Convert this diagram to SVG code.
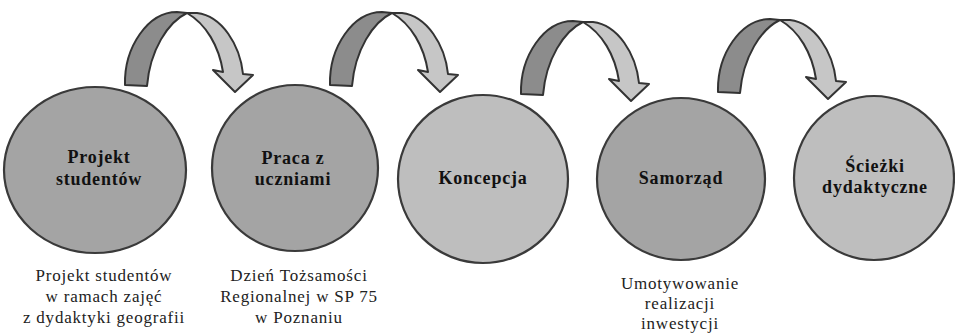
<svg xmlns="http://www.w3.org/2000/svg" width="955" height="333" viewBox="0 0 955 333">
<style>
.n{stroke:#3a3a3a;stroke-width:2.2}
.d{fill:#a4a4a4}
.l{fill:#bebebe}
.ad{fill:#8c8c8c;stroke:#333;stroke-width:2;stroke-linejoin:round}
.al{fill:#c6c6c6;stroke:#333;stroke-width:2;stroke-linejoin:round}
text{font-family:"Liberation Serif","Times New Roman","DejaVu Serif",serif}
.t{font-weight:bold;font-size:18px;text-anchor:middle;fill:#111;letter-spacing:0.8px}
.c{font-size:17px;text-anchor:middle;fill:#222;letter-spacing:0.8px}
</style>
<defs>
<g id="arrow">
<path class="ad" d="M125,85 C124,47 148,12 177,12 L187,13 C168,22 150,50 147,86 Z"/>
<path class="al" d="M187,13 L197,13 C222,16 240,45 243,74 L253,75 L235,92 L213,70 L223,72 C219,46 206,24 187,13 Z"/>
</g>
</defs>
<rect width="955" height="333" fill="#fff"/>
<g id="connectors">
<use href="#arrow"/>
<use href="#arrow" transform="translate(205,0)"/>
<use href="#arrow" transform="translate(396,9)"/>
<use href="#arrow" transform="translate(593,7)"/>
</g>
<g id="node1">
<ellipse class="n d" cx="95" cy="170" rx="91" ry="83"/>
<text class="t" x="99" y="163">Projekt</text>
<text class="t" x="99" y="185">studentów</text>
<text class="c" x="104" y="281">Projekt studentów</text>
<text class="c" x="104" y="302">w ramach zajęć</text>
<text class="c" x="104" y="323">z dydaktyki geografii</text>
</g>
<g id="node2">
<ellipse class="n d" cx="295" cy="168" rx="83" ry="83"/>
<text class="t" x="293" y="164">Praca z</text>
<text class="t" x="293" y="185">uczniami</text>
<text class="c" x="299" y="281">Dzień Tożsamości</text>
<text class="c" x="299" y="302">Regionalnej w SP 75</text>
<text class="c" x="299" y="323">w Poznaniu</text>
</g>
<g id="node3">
<ellipse class="n l" cx="483" cy="179" rx="85" ry="84"/>
<text class="t" x="483" y="184">Koncepcja</text>
</g>
<g id="node4">
<ellipse class="n d" cx="681" cy="179" rx="84" ry="81"/>
<text class="t" x="681" y="184">Samorząd</text>
<text class="c" x="680" y="289">Umotywowanie</text>
<text class="c" x="680" y="309">realizacji</text>
<text class="c" x="680" y="329">inwestycji</text>
</g>
<g id="node5">
<ellipse class="n l" cx="874" cy="178" rx="80" ry="82"/>
<text class="t" x="875" y="172">Ścieżki</text>
<text class="t" x="875" y="193">dydaktyczne</text>
</g>
</svg>
